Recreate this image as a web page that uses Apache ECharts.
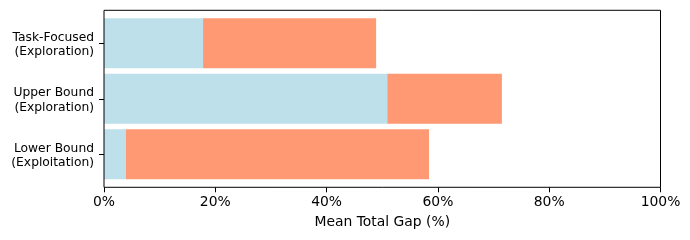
<!DOCTYPE html>
<html><head><meta charset="utf-8">
<script src="https://cdn.jsdelivr.net/npm/echarts@6/dist/echarts.min.js"></script>
<style>html,body{margin:0;padding:0;background:#fff}#c{width:690px;height:240px}</style>
</head><body><div id="c"></div>
<script>
const categories = ['Lower Bound\n(Exploitation)', 'Upper Bound\n(Exploration)', 'Task-Focused\n(Exploration)'];
const baseValues = [3.95, 50.9, 17.8];
const extraValues = [54.45, 20.6, 31.1];
const xTicks = [0, 20, 40, 60, 80, 100];

const chart = echarts.init(document.getElementById('c'), null, {renderer: 'canvas'});
const font = 'DejaVu Sans';
chart.setOption({
  animation: false,
  backgroundColor: '#fff',
  grid: [
    {left: 104, right: 29.5, top: 10.3, bottom: 52.7, show: true, borderColor: '#000', borderWidth: 1, backgroundColor: 'transparent', z: 10},
    {left: 104, right: 29.5, top: 15.5, bottom: 58},
    {left: 104, right: 29.5, top: 17, bottom: 56.5}
  ],
  xAxis: [
    {gridIndex: 0, type: 'value', min: xTicks[0], max: xTicks[xTicks.length - 1], interval: 20,
     axisLine: {show: false}, splitLine: {show: false},
     axisTick: {show: true, length: 5, lineStyle: {color: '#000', width: 1}},
     axisLabel: {formatter: v => v + '%', color: '#000', fontFamily: font, fontSize: 13.9, margin: 8},
     name: 'Mean Total Gap (%)', nameLocation: 'middle', nameGap: 28,
     nameTextStyle: {color: '#000', fontFamily: font, fontSize: 13.9}},
    {gridIndex: 1, type: 'value', min: 0, max: 100, show: false},
    {gridIndex: 2, type: 'value', min: 0, max: 100, show: false}
  ],
  yAxis: [
    {gridIndex: 0, type: 'value', show: false},
    {gridIndex: 1, type: 'category', data: categories,
     axisLine: {show: false},
     axisTick: {show: true, alignWithLabel: true, length: 5, lineStyle: {color: '#000', width: 1}},
     axisLabel: {show: false}},
    {gridIndex: 2, type: 'category', data: categories,
     axisLine: {show: false}, axisTick: {show: false},
     axisLabel: {color: '#000', fontFamily: font, fontSize: 12.3, lineHeight: 14.5, margin: 10, align: 'right'}}
  ],
  series: [
    {type: 'bar', xAxisIndex: 1, yAxisIndex: 1, stack: 'g', data: baseValues, barWidth: '90%',
     itemStyle: {color: '#BDE0EB'}},
    {type: 'bar', xAxisIndex: 1, yAxisIndex: 1, stack: 'g', data: extraValues, barWidth: '90%',
     itemStyle: {color: '#FF9973'}}
  ]
});
</script></body></html>
